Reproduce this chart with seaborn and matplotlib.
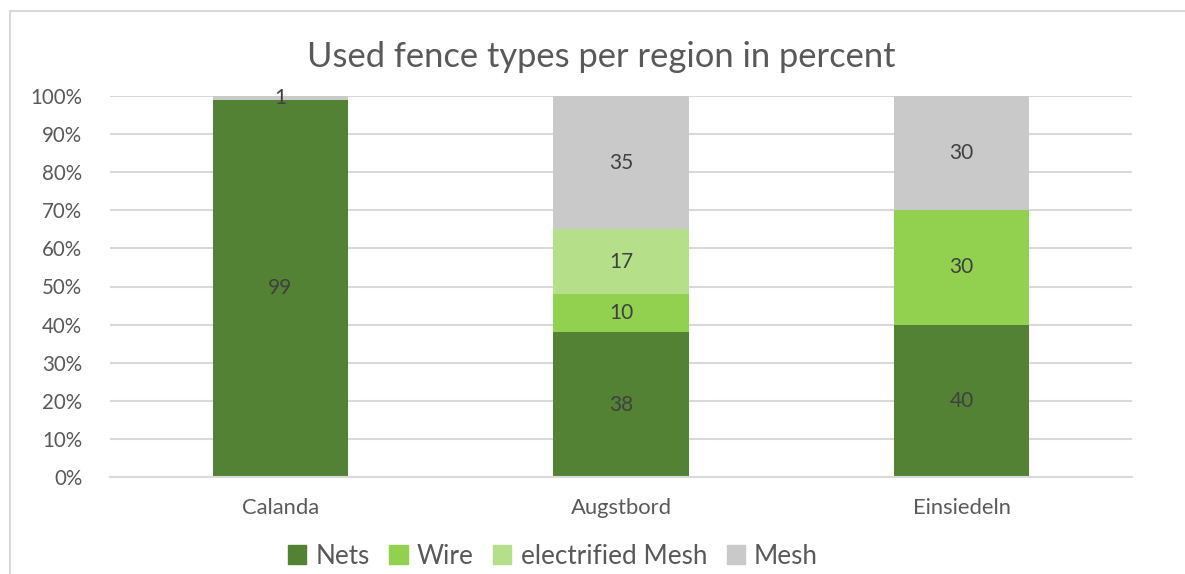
import matplotlib
matplotlib.use("Agg")
import matplotlib.pyplot as plt
import seaborn as sns
import numpy as np
from matplotlib.patches import Rectangle

regions = ["Calanda", "Augstbord", "Einsiedeln"]
nets = [99, 38, 40]
wire = [0, 10, 30]
electrified_mesh = [0, 17, 0]
mesh = [1, 35, 30]

series_names = ["Nets", "Wire", "electrified Mesh", "Mesh"]
series_values = [nets, wire, electrified_mesh, mesh]
series_colors = ["#548235", "#92D050", "#B5DF88", "#C9C9C9"]
y_ticks = [0, 10, 20, 30, 40, 50, 60, 70, 80, 90, 100]
title = "Used fence types per region in percent"

sns.set_theme(style="white")
plt.rcParams["font.family"] = ["Lato", "DejaVu Sans"]

W, H = 1185, 574
fig = plt.figure(figsize=(W / 100, H / 100), dpi=100)
ax = fig.add_axes([110 / W, 1 - 477 / H, (1132 - 110) / W, (477 - 96) / H])

# normalise each region to 100 %
totals = np.sum(np.array(series_values, dtype=float), axis=0)
bottom = np.zeros(len(regions))
for name, vals, col in zip(series_names, series_values, series_colors):
    pct = np.array(vals, dtype=float) / totals * 100
    sns.barplot(x=regions, y=pct, bottom=bottom, color=col, width=0.397,
                linewidth=0, saturation=1, ax=ax, order=regions)
    cont = ax.containers[-1]
    labels = [f"{v:g}" if v > 0 else "" for v in vals]
    ax.bar_label(cont, labels=labels, label_type="center",
                 fontsize=15, color="#404040")
    bottom = bottom + pct

if ax.get_legend() is not None:
    ax.get_legend().remove()

ax.set_xlim(-0.5, 2.5)
ax.set_ylim(0, 100)
ax.set_yticks(y_ticks)
ax.set_yticklabels([f"{t}%" for t in y_ticks])
ax.yaxis.grid(True, color="#D9D9D9", linewidth=1.5)
ax.set_axisbelow(True)
for s in ["top", "right", "left"]:
    ax.spines[s].set_visible(False)
ax.spines["bottom"].set_color("#D9D9D9")
ax.spines["bottom"].set_linewidth(1.5)
ax.tick_params(axis="y", length=0, labelsize=14.8, labelcolor="#595959", pad=20)
ax.tick_params(axis="x", length=0, labelsize=15.8, labelcolor="#595959", pad=15)
ax.set_xlabel("")
ax.set_ylabel("")

fig.text(601 / W, 1 - 57 / H, title, ha="center", va="center",
         fontsize=24.8, color="#595959")

handles = [Rectangle((0, 0), 1, 1, color=c) for c in series_colors]
leg = fig.legend(handles, series_names, loc="center", ncol=4,
                 bbox_to_anchor=(553 / W, 1 - 556 / H), frameon=False,
                 fontsize=18.8, handlelength=0.7, handleheight=0.7,
                 handletextpad=0.35, columnspacing=0.75, borderpad=0)
for t in leg.get_texts():
    t.set_color("#595959")

# chart area border
fig.patches.append(Rectangle((10 / W, -0.05), 1.2, 1 - 11 / H + 0.05,
                             transform=fig.transFigure, fill=False,
                             edgecolor="#D9D9D9", linewidth=1.5))

fig.savefig("out.png", dpi=100, facecolor="white")
